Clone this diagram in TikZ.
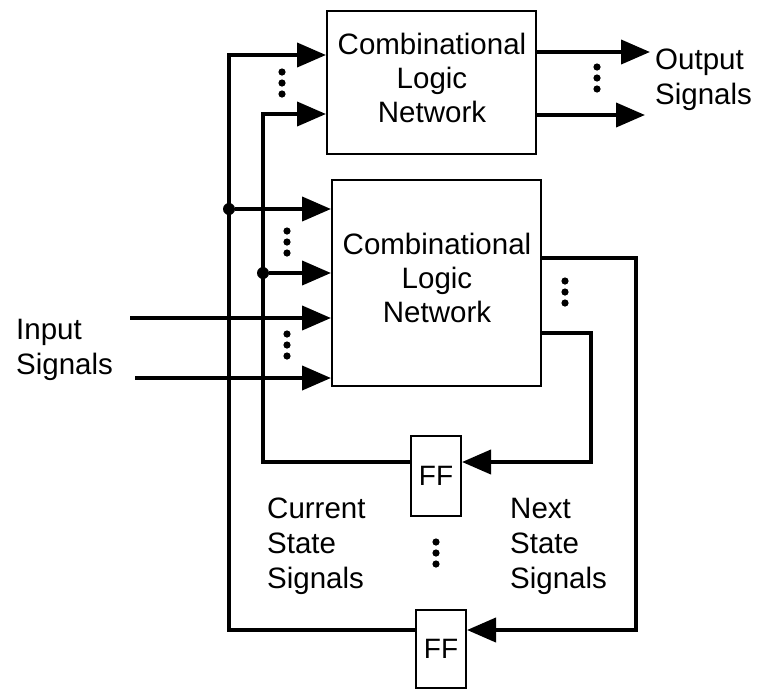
\documentclass[tikz,border=0pt]{standalone}
\usepackage{fontspec}
\setmainfont{Liberation Sans}
\usetikzlibrary{arrows.meta}
\begin{document}
\begin{tikzpicture}[x=1pt,y=-1pt,
  wire/.style={line width=4pt},
  arr/.style={wire,-{Triangle[length=29pt,width=24pt]}},
  box/.style={draw,line width=2pt,inner sep=0pt,font=\fontsize{28}{34}\selectfont},
  lbl/.style={font=\fontsize{29.5}{34}\selectfont,align=center,inner sep=0pt},
  side/.style={font=\fontsize{29.5}{35}\selectfont,align=left,inner sep=0pt,anchor=west},
  vd/.pic={\fill (0,-11) circle (3.6); \fill (0,0) circle (3.6); \fill (0,11) circle (3.6);},
  jdot/.style={circle,fill,inner sep=0pt,minimum size=12pt}]
\useasboundingbox (0,0) rectangle (758,689);
% boxes
\node[box,minimum width=209pt,minimum height=143pt] (cl1) at (431.5,82.5) {};
\node[lbl] (t1) at (432,78) {Combinational\\Logic\\Network};
\node[box,minimum width=209pt,minimum height=206pt] (cl2) at (436.5,283) {};
\node[lbl] (t2) at (437,278) {Combinational\\Logic\\Network};
\node[box,minimum width=50pt,minimum height=80pt] (ff1) at (436,476) {FF};
\node[box,minimum width=50pt,minimum height=78pt] (ff2) at (441,649) {FF};
% junctions
\node[jdot] (j1) at (229,209) {};
\node[jdot] (j2) at (263,273) {};
% feedback wires to top box
\draw[arr] ([yshift=19pt]ff2.west) -| (229,55) -- (cl1.west |- 0,55);
\draw[arr] ([yshift=14pt]ff1.west) -| (263,114) -- (cl1.west |- 0,114);
% inputs of lower box
\draw[arr] (j1) -- (cl2.west |- j1);
\draw[arr] (j2) -- (cl2.west |- j2);
\coordinate (in1) at (130,318);
\coordinate (in2) at (135,378);
\draw[arr] (in1) -- (cl2.west |- in1);
\draw[arr] (in2) -- (cl2.west |- in2);
% outputs
\coordinate (o1) at (650,52);
\coordinate (o2) at (645,115);
\draw[arr] (cl1.east |- o1) -- (o1);
\draw[arr] (cl1.east |- o2) -- (o2);
% next-state wires
\draw[arr] (cl2.east |- 0,258) -| (636,630) -- ([yshift=19pt]ff2.east);
\draw[arr] (cl2.east |- 0,333) -| (591,462) -- ([yshift=14pt]ff1.east);
% dots
\pic at (282,83) {vd};
\pic at (287,242) {vd};
\pic at (287,345) {vd};
\pic at (597,78) {vd};
\pic at (565,292) {vd};
\pic at (436,553) {vd};
% labels
\node[side] (outl) at (655,80) {Output\\Signals};
\node[side] (inl) at (16,350) {Input\\Signals};
\node[side] (cur) at (267,546) {Current\\State\\Signals};
\node[side] (nxt) at (510,546) {Next\\State\\Signals};
\end{tikzpicture}
\end{document}
